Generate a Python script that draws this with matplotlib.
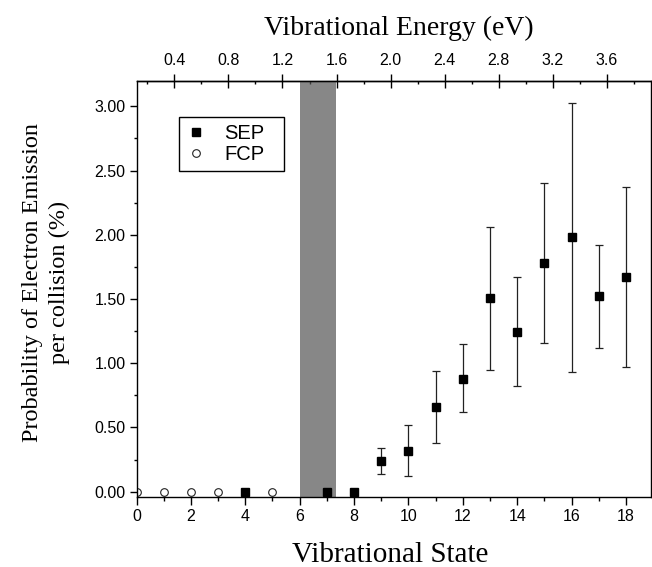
import numpy as np
import matplotlib
matplotlib.use("Agg")
import matplotlib.pyplot as plt
from matplotlib.lines import Line2D
from matplotlib.ticker import FixedLocator, FormatStrFormatter

# ---------------- data ----------------
sep_states = [4, 7, 8, 9, 10, 11, 12, 13, 14, 15, 16, 17, 18]
sep_values = [0.0, 0.0, 0.0, 0.24, 0.32, 0.66, 0.88, 1.51, 1.24, 1.78, 1.98, 1.52, 1.67]
sep_low = [0.0, 0.0, 0.0, 0.14, 0.12, 0.38, 0.62, 0.95, 0.82, 1.16, 0.93, 1.12, 0.97]
sep_high = [0.0, 0.0, 0.0, 0.34, 0.52, 0.94, 1.15, 2.06, 1.67, 2.40, 3.03, 1.92, 2.37]

fcp_states = [0, 1, 2, 3, 4, 5]
fcp_values = [0.0, 0.0, 0.0, 0.0, 0.0, 0.0]

band_states = [6.0, 7.33]

y_ticks = [0.0, 0.5, 1.0, 1.5, 2.0, 2.5, 3.0]
x_ticks = [0, 2, 4, 6, 8, 10, 12, 14, 16, 18]
energy_ticks = [0.4, 0.8, 1.2, 1.6, 2.0, 2.4, 2.8, 3.2, 3.6]
energy_minor = [0.2, 0.6, 1.0, 1.4, 1.8, 2.2, 2.6, 3.0, 3.4, 3.8]

# vibrational energy of state v (eV)
E0, dE = 0.1206, 0.2011


def v2e(v):
    return E0 + dE * np.asarray(v, dtype=float)


def e2v(e):
    return (np.asarray(e, dtype=float) - E0) / dE


SANS = "Liberation Sans"
SERIF = "Liberation Serif"

fig = plt.figure(figsize=(6.52, 5.67), dpi=100)
W, H = 652.0, 567.0
L, R, T, B = 136.5, 651.0, 80.7, 497.3
ax = fig.add_axes([L / W, 1 - B / H, (R - L) / W, (B - T) / H])

ax.set_xlim(0, 18.92)
ax.set_ylim(-0.044, 3.20)

# grey band
ax.axvspan(band_states[0], band_states[1], color="#555555", alpha=0.7,
           lw=0, zorder=2.3)

# FCP open circles
ax.plot(fcp_states, fcp_values, linestyle="none", marker="o", ms=5.5,
        mfc="white", mec="#222222", mew=0.8, zorder=2.1)

# SEP squares with error bars
vals = np.array(sep_values)
lo = vals - np.array(sep_low)
hi = np.array(sep_high) - vals
ax.errorbar(sep_states, sep_values, yerr=[lo, hi], fmt="s", ms=6,
            color="black", ecolor="#222222", elinewidth=0.9, capsize=3,
            capthick=0.9, zorder=2.2)

for s in ax.spines.values():
    s.set_linewidth(1.0)

ax.xaxis.set_major_locator(FixedLocator(x_ticks))
ax.xaxis.set_minor_locator(FixedLocator(list(range(1, 19, 2))))
ax.yaxis.set_major_locator(FixedLocator(y_ticks))
ax.yaxis.set_minor_locator(FixedLocator([0.25, 0.75, 1.25, 1.75, 2.25, 2.75]))
ax.yaxis.set_major_formatter(FormatStrFormatter("%.2f"))

ax.tick_params(axis="x", which="major", direction="out", length=5.5, width=1,
               pad=3, labelsize=11.5, top=False)
ax.tick_params(axis="x", which="minor", direction="out", length=3, width=1,
               top=False)
ax.tick_params(axis="y", which="major", direction="out", length=5, width=1,
               pad=3, labelsize=11.5, right=False)
ax.tick_params(axis="y", which="minor", direction="out", length=2.5, width=1,
               right=False)
for lab in ax.get_xticklabels() + ax.get_yticklabels():
    lab.set_fontfamily(SANS)

# top energy axis
sec = ax.secondary_xaxis("top", functions=(v2e, e2v))
sec.set_xticks(energy_ticks)
sec.set_xticks(energy_minor, minor=True)
sec.xaxis.set_major_formatter(FormatStrFormatter("%.1f"))
sec.tick_params(axis="x", which="major", direction="inout", length=10.5,
                width=1, pad=4, labelsize=11.5)
sec.tick_params(axis="x", which="minor", direction="in", length=2.5, width=1)
sec.spines["top"].set_linewidth(1.0)
for lab in sec.get_xticklabels():
    lab.set_fontfamily(SANS)

# legend (markers only)
h_sep = Line2D([], [], linestyle="none", marker="s", ms=5.2, color="black")
h_fcp = Line2D([], [], linestyle="none", marker="o", ms=5.5, mfc="white",
               mec="#222222", mew=0.8)
leg = ax.legend(handles=[h_sep, h_fcp], labels=["SEP", "FCP"],
                loc="upper left", bbox_to_anchor=(0.083, 0.9136, 0.203, 0.0),
                mode="expand", borderaxespad=0, frameon=True, fancybox=False,
                edgecolor="black", framealpha=1,
                prop={"family": SANS, "size": 14.5},
                handlelength=1.0, handletextpad=0.9, borderpad=0.35,
                labelspacing=0.1)
leg.get_frame().set_linewidth(1.0)

# labels
fig.text(399 / W, 1 - 35 / H, "Vibrational Energy (eV)", family=SERIF,
         fontsize=20, ha="center", va="baseline")
fig.text(390 / W, 1 - 562 / H, "Vibrational State", family=SERIF,
         fontsize=21, ha="center", va="baseline")
fig.text(46 / W, 1 - 282 / H,
         "Probability of Electron Emission\nper collision (%)",
         family=SERIF, fontsize=17.5, rotation=90, ha="center", va="center",
         multialignment="center", linespacing=1.42)

fig.savefig("out.png", dpi=100)
